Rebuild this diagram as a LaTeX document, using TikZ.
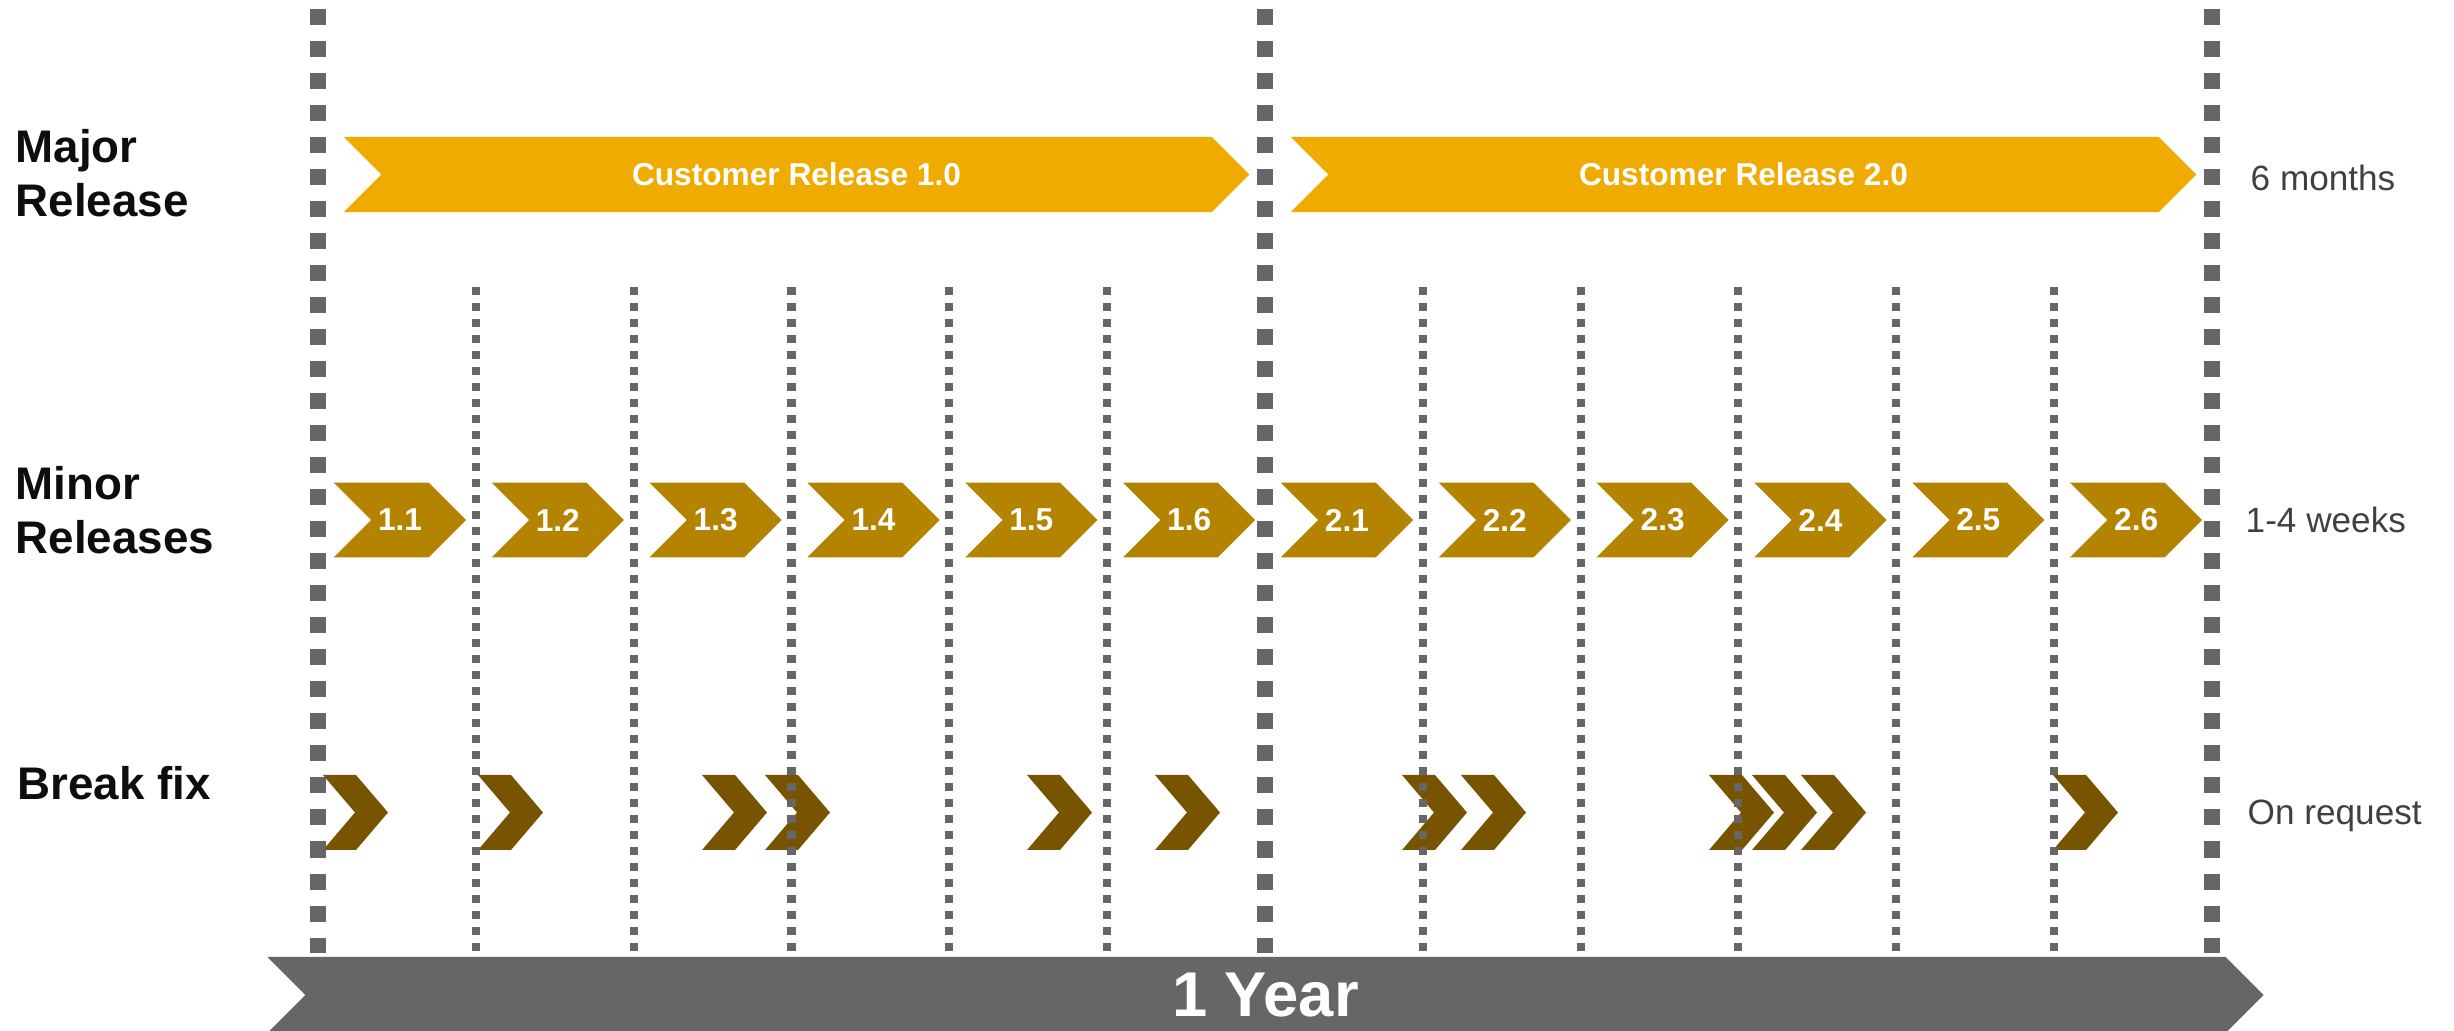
\documentclass[tikz,border=0pt]{standalone}
\usepackage{fontspec}
\setmainfont{Liberation Sans}
\usetikzlibrary{shapes.symbols}
\definecolor{majorgold}{HTML}{F0AB00}
\definecolor{minorgold}{HTML}{B48300}
\definecolor{fixbrown}{HTML}{785400}
\definecolor{linegray}{HTML}{666666}
\definecolor{sidegray}{HTML}{404040}
\begin{document}
\begin{tikzpicture}[x=0.01cm,y=-0.01cm,
  rowlabel/.style={anchor=base west,inner sep=0pt,align=left,text=black!95,font=\fontsize{13}{15.6}\selectfont\bfseries},
  period/.style={anchor=base west,inner sep=0pt,text=sidegray,font=\fontsize{10}{12}\selectfont},
  arrowbox/.style={signal,signal from=west,signal to=east,signal pointer angle=90,inner sep=0pt,text=white,font=\fontsize{9}{11}\selectfont\bfseries},
  major/.style={arrowbox,fill=majorgold,minimum width=9.05cm,minimum height=0.75cm},
  minor/.style={arrowbox,fill=minorgold,minimum width=1.32cm,minimum height=0.745cm},
  bigline/.style={linegray,line width=0.16cm,dash pattern=on 0.16cm off 0.16cm},
  smallline/.style={linegray,line width=0.08cm,dash pattern=on 0.08cm off 0.08cm}]
\useasboundingbox (0,0) rectangle (2454,1031);
% row names on the left
\node[rowlabel] (majlbl) at (15,217) {Major\\Release};
\node[rowlabel] (minlbl) at (15,554) {Minor\\Releases};
\node[rowlabel] (fixlbl) at (17,800) {Break fix};
% cadence on the right
\node[period] (majper) at (2250,191) {6 months};
\node[period] (minper) at (2245,533) {1-4 weeks};
\node[period] (fixper) at (2247,824) {On request};
% major releases
\node[major] (cr1) at (796.5,174.5) {Customer Release 1.0};
\node[major] (cr2) at (1743.5,174.5) {Customer Release 2.0};
% minor releases
\foreach \v [count=\k from 0] in {1.1,1.2,1.3,1.4,1.5,1.6,2.1,2.2,2.3,2.4,2.5,2.6}
  \node[minor] (rel\k) at ({400+157.83*\k},520) {\v};
% break fixes
\foreach \l in {323,478,702,765,1027,1155,1402,1461,1709,1752,1801,2053}
  \fill[fixbrown] (\l,775) -- ++(33,0) -- ++(32,37.5) -- ++(-32,37.5) -- ++(-33,0) -- ++(32,-37.5) -- cycle;
% time grid
\foreach \k in {1,2,3,4,5,7,8,9,10,11}
  \draw[smallline] ({318+157.83*\k},287) -- ({318+157.83*\k},951);
\foreach \x in {318,1265,2212}
  \draw[bigline] (\x,9) -- (\x,953);
% the year
\node[arrowbox,fill=linegray,minimum width=19.95cm,minimum height=0.76cm,font=\fontsize{18}{21}\selectfont\bfseries] (year) at (1265.5,995) {1 Year};
\end{tikzpicture}
\end{document}
